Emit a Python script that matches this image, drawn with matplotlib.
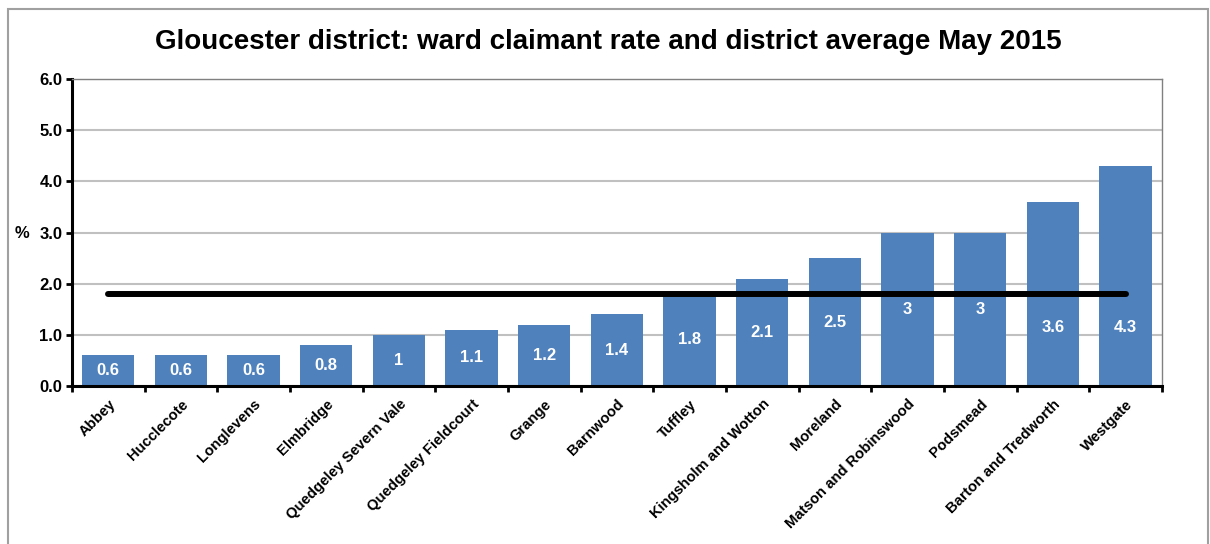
import matplotlib.pyplot as plt
from matplotlib.patches import Rectangle

plt.rcParams['font.family'] = ['Liberation Sans', 'DejaVu Sans']

# ward claimant rates, May 2015
wards = ['Abbey', 'Hucclecote', 'Longlevens', 'Elmbridge', 'Quedgeley Severn Vale',
         'Quedgeley Fieldcourt', 'Grange', 'Barnwood', 'Tuffley', 'Kingsholm and Wotton',
         'Moreland', 'Matson and Robinswood', 'Podsmead', 'Barton and Tredworth', 'Westgate']
rates = [0.6, 0.6, 0.6, 0.8, 1.0, 1.1, 1.2, 1.4, 1.8, 2.1, 2.5, 3.0, 3.0, 3.6, 4.3]
rate_labels = ['0.6', '0.6', '0.6', '0.8', '1', '1.1', '1.2', '1.4', '1.8', '2.1',
               '2.5', '3', '3', '3.6', '4.3']
district_avg = 1.8
yticks = [0.0, 1.0, 2.0, 3.0, 4.0, 5.0, 6.0]

fig = plt.figure(figsize=(12.1, 5.44), dpi=100)
ax = fig.add_axes([0.0595, 0.2904, 0.9008, 0.5644])

x = list(range(len(wards)))
ax.bar(x, rates, width=0.72, color='#4F81BD', zorder=2)

# district average line across the bar centres
ax.plot([x[0], x[-1]], [district_avg, district_avg], color='black', lw=4.3,
        solid_capstyle='round', zorder=3)

for xi, v, lab in zip(x, rates, rate_labels):
    ypos = v / 2 if v <= 3 else 1.15
    ax.text(xi, ypos, lab, ha='center', va='center', color='white',
            fontsize=12, fontweight='bold', zorder=4)

ax.set_xlim(-0.5, len(wards) - 0.5)
ax.set_ylim(0, 6)
ax.set_yticks(yticks)
ax.set_yticklabels([f'{t:.1f}' for t in yticks], fontsize=12, fontweight='bold')
ax.set_xticks([i - 0.5 for i in range(len(wards) + 1)])
ax.set_xticklabels([])
ax.set_xticks(x, minor=True)
ax.set_xticklabels(wards, minor=True, rotation=45, ha='right', rotation_mode='anchor',
                   fontsize=10.7, fontweight='bold')
ax.tick_params(axis='x', which='minor', length=0, pad=8)
ax.tick_params(axis='x', which='major', length=4, width=2, direction='out')
ax.tick_params(axis='y', length=4, width=2, direction='out', pad=3)

ax.yaxis.grid(True, color='#c0c0c0', lw=1.5, zorder=0)
ax.set_axisbelow(True)
for s in ['top', 'right']:
    ax.spines[s].set_color('#808080')
    ax.spines[s].set_linewidth(1)
for s in ['left', 'bottom']:
    ax.spines[s].set_color('black')
    ax.spines[s].set_linewidth(2.2)

fig.text(22 / 1210, 1 - 234 / 544, '%', fontsize=12, fontweight='bold',
         ha='center', va='center')
fig.text(0.503, 1 - 49 / 544, 'Gloucester district: ward claimant rate and district average May 2015',
         fontsize=20, fontweight='bold', ha='center', va='baseline')

fig.patches.append(Rectangle((8 / 1210, -0.05), 1200 / 1210, 1.05 - 9 / 544,
                             transform=fig.transFigure, fill=False,
                             edgecolor='#a0a0a0', lw=1.5))

fig.savefig('out.png', dpi=100)
